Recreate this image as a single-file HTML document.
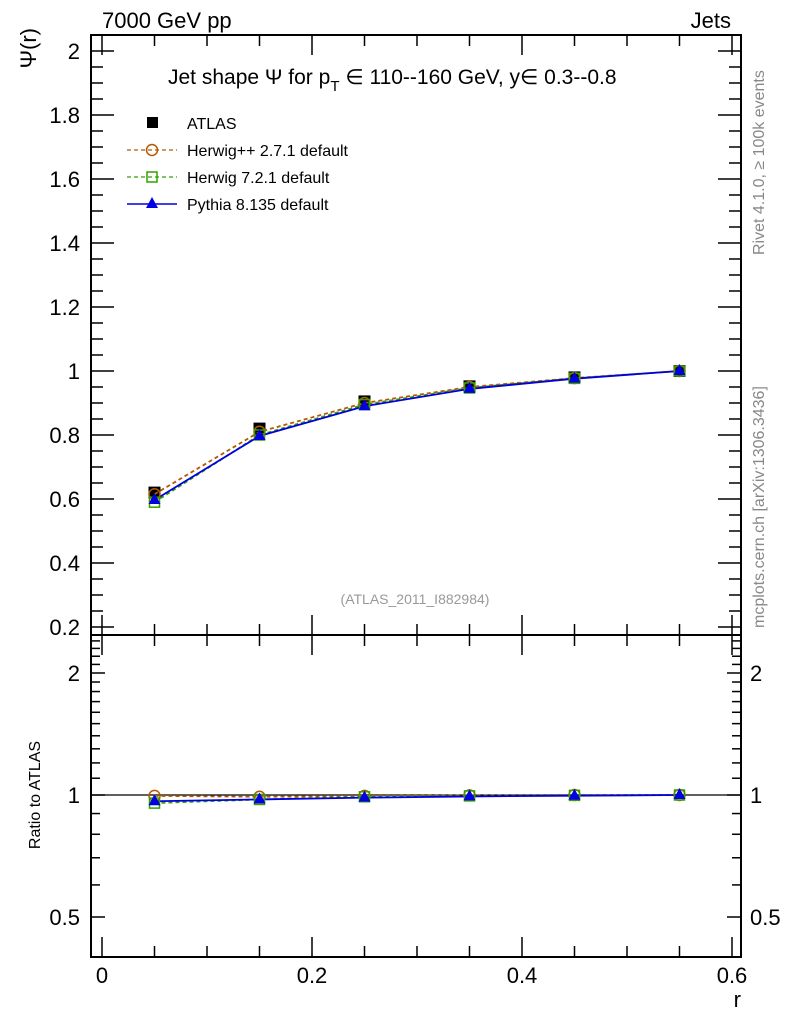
<!DOCTYPE html>
<html><head><meta charset="utf-8"><style>
html,body{margin:0;padding:0;background:#fff}
svg text{font-family:"Liberation Sans",sans-serif}
</style></head><body>
<svg id="s" width="786" height="1024" viewBox="0 0 786 1024" xmlns="http://www.w3.org/2000/svg">
<rect x="91" y="35" width="650" height="600" fill="none" stroke="#000" stroke-width="2"/>
<rect x="91" y="635" width="650" height="322" fill="none" stroke="#000" stroke-width="2"/>
<g id="ticks" stroke="#000" stroke-width="1.5"></g>
<line x1="91" y1="795" x2="741" y2="795" stroke="#000" stroke-width="1.2"/>
<g font-size="22">
<text x="102" y="28">7000 GeV pp</text>
<text x="731" y="28" text-anchor="end">Jets</text>
<g text-anchor="end">
<text x="80" y="59">2</text><text x="80" y="123">1.8</text><text x="80" y="187">1.6</text>
<text x="80" y="251">1.4</text><text x="80" y="315">1.2</text><text x="80" y="379">1</text>
<text x="80" y="443">0.8</text><text x="80" y="507">0.6</text><text x="80" y="571">0.4</text>
<text x="80" y="635">0.2</text>
<text x="80" y="681">2</text><text x="80" y="803">1</text><text x="80" y="925">0.5</text>
</g>
<text x="750" y="681">2</text><text x="750" y="803">1</text><text x="750" y="925">0.5</text>
<g text-anchor="middle">
<text x="102" y="983">0</text><text x="312" y="983">0.2</text><text x="522" y="983">0.4</text><text x="732" y="983">0.6</text>
</g>
<text x="741" y="1007" text-anchor="end">r</text>
<text transform="translate(36,28) rotate(-90)" text-anchor="end" font-family="Liberation Serif">Ψ(r)</text>
<text x="168" y="84" font-size="21">Jet shape Ψ for p<tspan font-size="15" dy="7">T</tspan><tspan dy="-7"> ∈ 110--160 GeV, y∈ 0.3--0.8</tspan></text>
</g>
<text x="415" y="604" font-size="14" fill="#999" text-anchor="middle">(ATLAS_2011_I882984)</text>
<text transform="translate(40,795) rotate(-90)" font-size="16" text-anchor="middle">Ratio to ATLAS</text>
<text transform="translate(764,255) rotate(-90)" font-size="16" fill="#888">Rivet 4.1.0, ≥ 100k events</text>
<text transform="translate(764,628) rotate(-90)" font-size="16" fill="#888">mcplots.cern.ch [arXiv:1306.3436]</text>
<g font-size="16">
<rect x="147" y="117" width="11" height="11" fill="#000"/><text x="187" y="129">ATLAS</text>
<line x1="127" y1="150" x2="177" y2="150" stroke="#b35900" stroke-dasharray="4,3" stroke-width="1.3"/><circle cx="152" cy="150" r="5.5" fill="none" stroke="#b35900" stroke-width="1.5"/><text x="187" y="156">Herwig++ 2.7.1 default</text>
<line x1="127" y1="177" x2="177" y2="177" stroke="#33a000" stroke-dasharray="4,3" stroke-width="1.3"/><rect x="147" y="172" width="10" height="10" fill="none" stroke="#33a000" stroke-width="1.5"/><text x="187" y="183">Herwig 7.2.1 default</text>
<line x1="127" y1="204" x2="177" y2="204" stroke="#0000e0" stroke-width="1.5"/><polygon points="152,197 158,208 146,208" fill="#0000e0"/><text x="187" y="210">Pythia 8.135 default</text>
</g>
<g id="data"></g>
</svg>
<script>
var T=document.getElementById('ticks'),D=document.getElementById('data'),NS="http://www.w3.org/2000/svg";
function L(g,x1,y1,x2,y2,st,w,da){var l=document.createElementNS(NS,'line');l.setAttribute('x1',x1);l.setAttribute('y1',y1);l.setAttribute('x2',x2);l.setAttribute('y2',y2);if(st)l.setAttribute('stroke',st);if(w)l.setAttribute('stroke-width',w);if(da)l.setAttribute('stroke-dasharray',da);g.appendChild(l);}
function yM(v){return 371-(v-1)*320;}
function yR(r){return 795-Math.log2(r)*122;}
for(var i=4;i<=41;i++){var v=i*0.05,y=yM(v);if(y<36||y>634)continue;var mj=(i%4==0);var len=mj?23:12;L(T,91,y,91+len,y);L(T,741,y,741-len,y);}
for(var i=4;i<=25;i++){var r=i/10,y=yR(r);if(y<636||y>956)continue;var mj=(i==5||i==10||i==20);var len=mj?14:9;L(T,91,y,91+len,y);L(T,741,y,741-len,y);}
for(var i=0;i<=12;i++){var x=102+i*52.5,mj=(i%4==0),len=mj?20:11;
 L(T,x,635,x,635-len);L(T,x,35,x,35+len);L(T,x,957,x,957-len);L(T,x,635,x,635+len);}
var X=[0.05,0.15,0.25,0.35,0.45,0.55].map(function(v){return 102+v*1050;});
var A=[0.62,0.82,0.905,0.952,0.98,1.0],HP=[0.615,0.81,0.90,0.95,0.978,1],H7=[0.59,0.80,0.895,0.947,0.977,1],PY=[0.597,0.797,0.89,0.944,0.976,1];
var rHP=[0.995,0.99,0.995,0.998,1,1],rH7=[0.955,0.975,0.99,0.995,0.998,1],rPY=[0.965,0.975,0.985,0.992,0.996,1];
function poly(vals,f,col,da,w){var p=document.createElementNS(NS,'polyline');p.setAttribute('points',vals.map(function(v,i){return X[i]+','+f(v)}).join(' '));p.setAttribute('fill','none');p.setAttribute('stroke',col);p.setAttribute('stroke-width',w);if(da)p.setAttribute('stroke-dasharray',da);D.appendChild(p);}
function el(t,a){var e=document.createElementNS(NS,t);for(var k in a)e.setAttribute(k,a[k]);D.appendChild(e);}
function series(f,a,hp,h7,py){
 if(a)a.forEach(function(v,i){el('rect',{x:X[i]-6,y:f(v)-6,width:12,height:12,fill:'#000'});});
 poly(hp,f,'#b35900','4,3',1.8);poly(h7,f,'#33a000','4,3',1.8);poly(py,f,'#0000e0','',1.8);
 hp.forEach(function(v,i){el('circle',{cx:X[i],cy:f(v),r:5.5,fill:'none',stroke:'#b35900','stroke-width':1.5});});
 h7.forEach(function(v,i){el('rect',{x:X[i]-5,y:f(v)-5,width:10,height:10,fill:'none',stroke:'#33a000','stroke-width':1.5});});
 py.forEach(function(v,i){var x=X[i],y=f(v);el('polygon',{points:x+','+(y-7)+' '+(x+6)+','+(y+4)+' '+(x-6)+','+(y+4),fill:'#0000e0'});});
}
series(yM,A,HP,H7,PY);series(yR,null,rHP,rH7,rPY);
</script>
</body></html>
